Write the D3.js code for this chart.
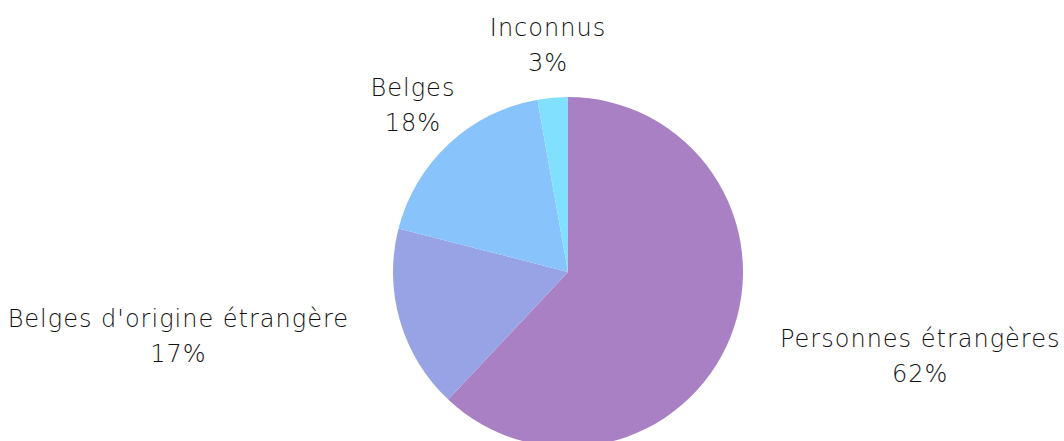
<!DOCTYPE html>
<html><head><meta charset="utf-8">
<script src="https://cdn.jsdelivr.net/npm/d3@7"></script>
<style>body{margin:0;background:#fff}svg{display:block}text{font-family:"DejaVu Sans",sans-serif;font-weight:300;fill:#111}</style>
</head><body><svg id="c" width="1064" height="441"></svg>
<script>
const categories = ["Personnes étrangères", "Belges d'origine étrangère", "Belges", "Inconnus"];
const values = [62.0, 17.0, 18.2, 2.8];
const valueLabels = ["62%", "17%", "18%", "3%"];
const colors = ["#a980c4", "#98a3e6", "#88c3fc", "#82e0ff"];

const W = 1064, H = 441, cx = 568, cy = 272, r = 175, labelR = 228, lineGap = 35;
const svg = d3.select("#c");
const g = svg.append("g").attr("transform", `translate(${cx},${cy})`);
const pie = d3.pie().sort(null).value(d => d)(values);
const arc = d3.arc().innerRadius(0).outerRadius(r);
g.selectAll("path").data(pie).join("path").attr("d", arc).attr("fill", (d, i) => colors[i]);

pie.forEach((d, i) => {
  const a = (d.startAngle + d.endAngle) / 2;
  const x = Math.sin(a) * labelR, y = -Math.cos(a) * labelR;
  const t = g.append("text").attr("font-size", 24).attr("letter-spacing", 1).attr("text-anchor", "middle");
  const l1 = t.append("tspan").attr("x", 0).attr("y", y - lineGap / 2).attr("dy", "0.35em").text(categories[i]);
  const l2 = t.append("tspan").attr("x", 0).attr("y", y + lineGap / 2).attr("dy", "0.35em").text(valueLabels[i]);
  const w = Math.max(l1.node().getComputedTextLength(), l2.node().getComputedTextLength());
  let xc = x;
  if (Math.sin(a) > 0.75) xc = x + w / 2;
  else if (Math.sin(a) < -0.75) xc = x - w / 2;
  l1.attr("x", xc); l2.attr("x", xc);
});
</script></body></html>
